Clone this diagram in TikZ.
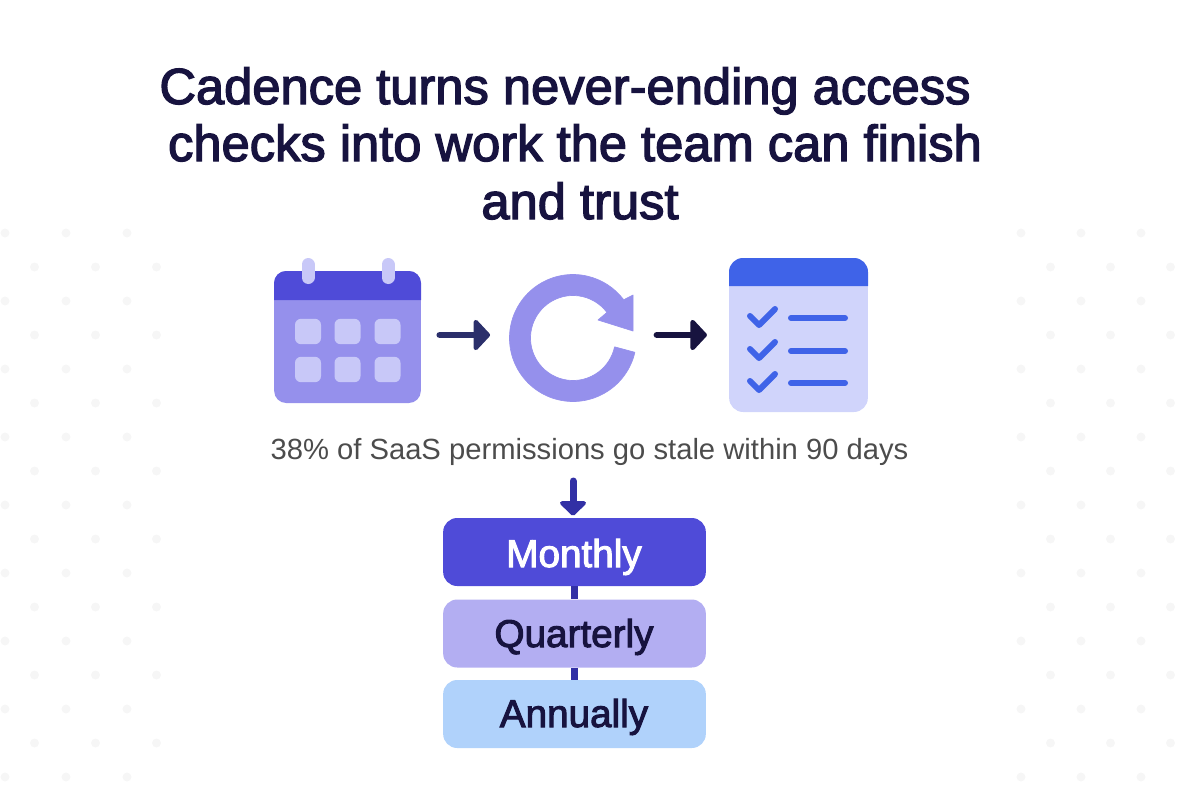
\documentclass[tikz,border=0pt]{standalone}
\usepackage{fontspec}
\setmainfont{Liberation Sans}
\newfontfamily\headfont[FakeBold=2.6]{Liberation Sans}
\newfontfamily\tierfont[FakeBold=2.6]{Liberation Sans}
\usepackage{tikz}
\usetikzlibrary{arrows.meta}
\definecolor{inkdark}{RGB}{23,19,63}
\definecolor{inkslate}{RGB}{43,47,107}
\definecolor{indigo}{RGB}{79,75,216}
\definecolor{violetbody}{RGB}{149,144,236}
\definecolor{palecell}{RGB}{200,200,248}
\definecolor{listbody}{RGB}{208,212,251}
\definecolor{listblue}{RGB}{63,99,232}
\definecolor{lilac}{RGB}{179,174,242}
\definecolor{skyblue}{RGB}{176,210,251}
\definecolor{linkblue}{RGB}{50,48,165}
\definecolor{dotgrey}{RGB}{246,246,246}
\tikzset{
  titletext/.style={text=inkdark,font=\fontsize{38}{38}\selectfont\headfont,inner sep=0pt,anchor=base},
  tierbox/.style={rounded corners=10.5pt,minimum width=197pt,minimum height=51pt,inner sep=0pt},
  tierlabel/.style={font=\fontsize{29}{29}\selectfont\tierfont,inner sep=0pt,anchor=base},
  flowarrow/.style={line width=5pt,line cap=round,-{Triangle[round,length=13pt,width=27pt]}},
  calcell/.style={fill=palecell,rounded corners=4.5pt,minimum width=19.5pt,minimum height=19pt,inner sep=0pt},
  checkmark/.style={draw=listblue,line width=4.5pt,line cap=round,line join=round},
  listbar/.style={draw=listblue,line width=4.5pt,line cap=round},
}
\begin{document}
\begin{tikzpicture}[x=0.75pt,y=0.75pt,yscale=-1,xscale=1]
\useasboundingbox (0,0) rectangle (1200,800);

%Background dots
\foreach \dotrow in {0,...,16}
  \foreach \dotx in {5,66,127,1021,1081,1141} {
    \pgfmathsetmacro{\dotshift}{mod(\dotrow,2)*29.5}
    \fill[dotgrey] (\dotx+\dotshift,233+\dotrow*34) circle[radius=4.5];
  }

% Text Node
\node[titletext] (titlea) at (565,104) {Cadence turns never-ending access};
\node[titletext] (titleb) at (575,161) {checks into work the team can finish};
\node[titletext] (titlec) at (580,219) {and trust};

%Calendar
\node[fill=violetbody,rounded corners=9pt,minimum width=110pt,minimum height=99pt,inner sep=0pt] (calbody) at (347.5,337) {};
\fill[indigo] (274,300) -- (274,283) arc[start angle=180,end angle=270,radius=12] -- (409,271) arc[start angle=270,end angle=360,radius=12] -- (421,300) -- cycle;
\foreach \ringx in {308,388}
  \draw[palecell,line width=9.75pt,line cap=round] (\ringx,264.5) -- (\ringx,277.5);
\foreach \cellx in {308,347.5,387.5}
  \foreach \celly in {331.5,369.5}
    \node[calcell] at (\cellx,\celly) {};

%Cycle
\node[circle,minimum size=96pt,inner sep=0pt] (ring) at (573,338) {};
\fill[violetbody,draw=violetbody,line join=round,line width=0.5pt]
  ([shift={(573,338)}]13:63.5) arc[start angle=13,end angle=323,radius=63.5]
  -- (633,295) -- (633,331) -- (598,320)
  -- ([shift={(573,338)}]323:42.5) arc[start angle=323,end angle=12,radius=42.5] -- cycle;

%Checklist
\node[fill=listbody,rounded corners=10.5pt,minimum width=104pt,minimum height=115.5pt,inner sep=0pt] (checklist) at (798.5,335) {};
\fill[listblue] (729,286) -- (729,272) arc[start angle=180,end angle=270,radius=14] -- (854,258) arc[start angle=270,end angle=360,radius=14] -- (868,286) -- cycle;
\foreach \rowy in {0,33,65} {
  \draw[checkmark] (750,316+\rowy) -- (759,325+\rowy) -- (775,309+\rowy);
  \draw[listbar] (791,318+\rowy) -- (845,318+\rowy);
}

% Text Node
\node[text=black!70,font=\fontsize{21.9}{21.9}\selectfont,inner sep=0pt,anchor=base] (caption) at (589.5,459) {38\% of SaaS permissions go stale within 90 days};

%Tier boxes
\node[tierbox,fill=indigo] (monthly) at (574.5,552) {};
\node[tierbox,fill=lilac] (quarterly) at (574.5,633.5) {};
\node[tierbox,fill=skyblue] (annually) at (574.5,714) {};
\node[tierlabel,text=white] (monthlylabel) at (574,567) {Monthly};
\node[tierlabel,text=inkdark] (quarterlylabel) at (574,647) {Quarterly};
\node[tierlabel,text=inkdark] (annuallylabel) at (574,727) {Annually};
\coordinate (tierin) at (573,481);

%Straight Lines
\draw[flowarrow,color=inkslate,shorten <=14pt,shorten >=14pt] (calbody.east |- 0,335) -- (ring.west |- 0,335);
\draw[flowarrow,color=inkdark,shorten <=14.75pt,shorten >=16.5pt] (ring.east |- 0,335) -- (checklist.west |- 0,335);
\draw[color=linkblue,line width=5.25pt,line cap=round,shorten >=1.5pt,-{Triangle[round,length=11.5pt,width=23pt]}] (tierin) -- (monthly.north -| tierin);
\draw[color=linkblue,line width=5.25pt] (monthly) -- (quarterly);
\draw[color=linkblue,line width=5.25pt] (quarterly) -- (annually);
\end{tikzpicture}
\end{document}
